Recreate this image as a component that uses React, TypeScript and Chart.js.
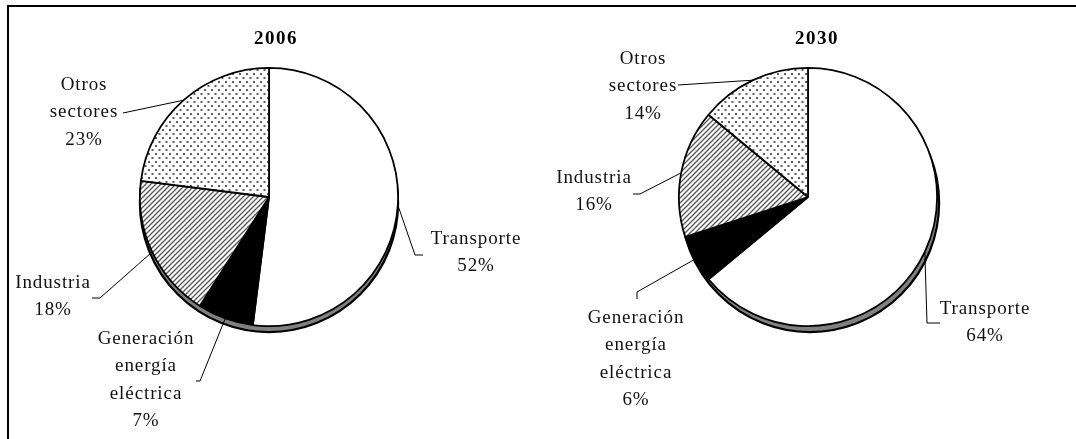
import React, { useEffect, useRef } from "react";
import { Chart, registerables } from "chart.js";

Chart.register(...registerables);

// ---- data ----
const sectorNames = ["Transporte", "Generación energía eléctrica", "Industria", "Otros sectores"];
const sectorNameLines = [["Transporte"], ["Generación", "energía", "eléctrica"], ["Industria"], ["Otros", "sectores"]];
const values2006 = [52, 7, 18, 23];
const values2030 = [64, 6, 16, 14];
const yearTitles = ["2006", "2030"];

// ---- layout (label placement, not data) ----
type LabelPos = { x: number; y: number; leader: number[][] };
const labelLayout2006: LabelPos[] = [
  { x: 476, y: 239, leader: [[423, 255], [415, 255]] },
  { x: 146, y: 339, leader: [[196, 381], [200, 381]] },
  { x: 53, y: 283, leader: [[92, 298], [100, 298]] },
  { x: 84, y: 85, leader: [[123, 113]] },
];
const labelLayout2030: LabelPos[] = [
  { x: 447, y: 309, leader: [[402, 323], [389, 323]] },
  { x: 98, y: 318, leader: [[99, 299], [99, 292]] },
  { x: 56, y: 178, leader: [[95, 194], [102, 194]] },
  { x: 105, y: 59, leader: [[140, 85]] },
];

const FONT = '"Liberation Serif", "Times New Roman", serif';
const LINE_H = 27.3;

function makeDots(): CanvasPattern | string {
  const t = document.createElement("canvas");
  t.width = 7;
  t.height = 8;
  const c = t.getContext("2d")!;
  c.fillStyle = "#fff";
  c.fillRect(0, 0, 7, 8);
  c.fillStyle = "#5e5e5e";
  c.fillRect(1, 1, 2, 2);
  c.fillRect(4.5, 5, 2, 2);
  const p = c.createPattern(t, "repeat");
  return p || "#ddd";
}

function makeHatch(): CanvasPattern | string {
  const s = 5;
  const t = document.createElement("canvas");
  t.width = s;
  t.height = s;
  const c = t.getContext("2d")!;
  c.fillStyle = "#fff";
  c.fillRect(0, 0, s, s);
  c.strokeStyle = "#5a5a5a";
  c.lineWidth = 1.4;
  c.beginPath();
  c.moveTo(-1, s + 1);
  c.lineTo(s + 1, -1);
  c.moveTo(-2, 2);
  c.lineTo(2, -2);
  c.moveTo(s - 2, s + 2);
  c.lineTo(s + 2, s - 2);
  c.stroke();
  const p = c.createPattern(t, "repeat");
  return p || "#999";
}

const piePlugin = {
  id: "pieDecor",
  beforeDatasetsDraw(chart: any, _args: any, opts: any) {
    const meta = chart.getDatasetMeta(0);
    const el = meta.data[0];
    if (!el) return;
    const { x, y, outerRadius } = el.getProps(["x", "y", "outerRadius"], true);
    const ctx = chart.ctx;
    ctx.save();
    ctx.beginPath();
    ctx.arc(x + opts.shadowDx, y + opts.shadowDy, outerRadius, 0, Math.PI * 2);
    ctx.fillStyle = "#808080";
    ctx.fill();
    ctx.lineWidth = 2.2;
    ctx.strokeStyle = "#000";
    ctx.stroke();
    ctx.restore();
  },
  afterDatasetsDraw(chart: any, _args: any, opts: any) {
    const ctx = chart.ctx as CanvasRenderingContext2D;
    const meta = chart.getDatasetMeta(0);
    const values: number[] = chart.data.datasets[0].data;
    ctx.save();
    // title
    (ctx as any).letterSpacing = "1.5px";
    ctx.font = `bold 19px ${FONT}`;
    ctx.fillStyle = "#000";
    ctx.textAlign = "center";
    ctx.textBaseline = "middle";
    ctx.fillText(opts.title, opts.titleX, opts.titleY);

    (ctx as any).letterSpacing = "0.9px";
    ctx.font = `19px ${FONT}`;
    ctx.fillStyle = "#111";
    meta.data.forEach((el: any, i: number) => {
      const { x, y, startAngle, endAngle, outerRadius } = el.getProps(
        ["x", "y", "startAngle", "endAngle", "outerRadius"],
        true
      );
      const mid = (startAngle + endAngle) / 2;
      const ax = x + outerRadius * Math.cos(mid);
      const ay = y + outerRadius * Math.sin(mid);
      const L: LabelPos = opts.layout[i];
      // leader
      ctx.beginPath();
      ctx.strokeStyle = "#000";
      ctx.lineWidth = 1;
      ctx.moveTo(L.leader[0][0], L.leader[0][1]);
      for (let k = 1; k < L.leader.length; k++) ctx.lineTo(L.leader[k][0], L.leader[k][1]);
      ctx.lineTo(ax, ay);
      ctx.stroke();
      // text
      const lines = [...sectorNameLines[i], `${values[i]}%`];
      lines.forEach((t, j) => ctx.fillText(t, L.x, L.y + j * LINE_H));
    });
    ctx.restore();
  },
};

function PieChart(props: {
  values: number[];
  title: string;
  left: number;
  pad: { left: number; right: number; top: number; bottom: number };
  layout: LabelPos[];
  titleX: number;
  shadowDx: number;
  shadowDy: number;
}) {
  const ref = useRef<HTMLCanvasElement>(null);
  useEffect(() => {
    if (!ref.current) return;
    const chart = new Chart(ref.current, {
      type: "pie",
      data: {
        labels: sectorNames,
        datasets: [
          {
            data: props.values,
            backgroundColor: ["#ffffff", "#000000", makeHatch(), makeDots()] as any,
            borderColor: "#000",
            borderWidth: 1.8,
            hoverOffset: 0,
            offset: 0,
          } as any,
        ],
      },
      options: {
        responsive: false,
        animation: false,
        devicePixelRatio: 1,
        layout: { padding: props.pad },
        events: [],
        plugins: {
          legend: { display: false },
          tooltip: { enabled: false },
          title: { display: false },
          pieDecor: {
            title: props.title,
            titleX: props.titleX,
            titleY: 39,
            layout: props.layout,
            shadowDx: props.shadowDx,
            shadowDy: props.shadowDy,
          },
        } as any,
      },
      plugins: [piePlugin as any],
    });
    return () => chart.destroy();
  }, []);
  return (
    <canvas
      ref={ref}
      width={538}
      height={439}
      style={{ position: "absolute", left: props.left, top: 0, width: 538, height: 439 }}
    />
  );
}

export default function App() {
  return (
    <div>
      <div
        style={{
          position: "absolute",
          left: 7,
          top: 5,
          width: 1200,
          height: 600,
          border: "2px solid #000",
          boxSizing: "border-box",
        }}
      />
      <div style={{ position: "absolute", left: 0, top: 0, width: 1076, height: 439, overflow: "hidden" }}>
        <PieChart
          values={values2006}
          title={yearTitles[0]}
          left={0}
          pad={{ left: 139, right: 139, top: 67, bottom: 112 }}
          layout={labelLayout2006}
          titleX={276}
          shadowDx={0}
          shadowDy={6}
        />
        <PieChart
          values={values2030}
          title={yearTitles[1]}
          left={538}
          pad={{ left: 140, right: 138, top: 67, bottom: 112 }}
          layout={labelLayout2030}
          titleX={279}
          shadowDx={2}
          shadowDy={6}
        />
      </div>
    </div>
  );
}
